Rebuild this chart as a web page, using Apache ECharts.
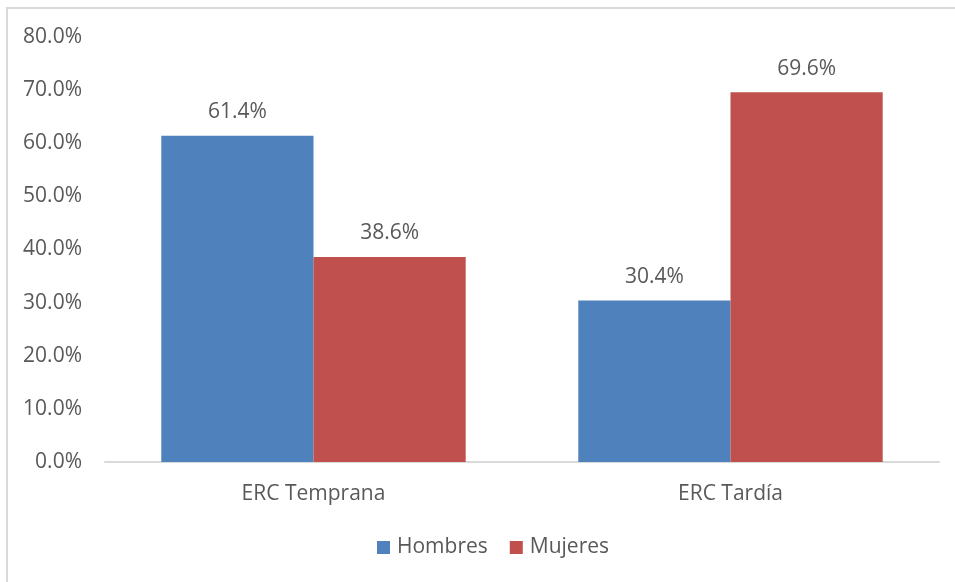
<!DOCTYPE html>
<html>
<head>
<meta charset="utf-8">
<script src="https://cdn.jsdelivr.net/npm/echarts@6/dist/echarts.min.js"></script>
<style>
  html, body { margin: 0; padding: 0; background: #fff; }
  #frame { position: absolute; left: 6px; top: 7px; width: 960px; height: 590px; border: 2px solid #d9d9d9; box-sizing: border-box; }
  #chart { position: absolute; left: 0; top: 0; width: 955px; height: 582px; }
</style>
</head>
<body>
<div id="frame"></div>
<div id="chart"></div>
<script>
// Distribución por sexo según estadio de ERC (%)
const categories = ['ERC Temprana', 'ERC Tardía'];
const hombres = [61.4, 30.4];
const mujeres = [38.6, 69.6];
const seriesNames = ['Hombres', 'Mujeres'];

const FONT = 'Open Sans';
const TEXT = '#595959';

const chart = echarts.init(document.getElementById('chart'), null, { renderer: 'canvas' });

const labelStyle = {
  show: true,
  position: 'top',
  distance: 13,
  color: TEXT,
  fontFamily: FONT,
  fontSize: 21,
  formatter: p => p.value.toFixed(1) + '%'
};

chart.setOption({
  backgroundColor: 'transparent',
  animation: false,
  grid: { left: 105, right: 16, top: 37, bottom: 120, containLabel: false },
  legend: {
    data: seriesNames,
    bottom: 19,
    left: 372,
    itemWidth: 13,
    itemHeight: 13,
    itemGap: 22,
    icon: 'rect',
    textStyle: { color: TEXT, fontFamily: FONT, fontSize: 21, padding: [0, 0, 0, 2] }
  },
  xAxis: {
    type: 'category',
    data: categories,
    axisLine: { lineStyle: { color: '#d9d9d9', width: 2 } },
    axisTick: { show: false },
    axisLabel: { color: TEXT, fontFamily: FONT, fontSize: 21, margin: 22 }
  },
  yAxis: {
    type: 'value',
    min: 0,
    max: 80,
    interval: 10,
    splitLine: { show: false },
    axisLine: { show: false },
    axisTick: { show: false },
    axisLabel: {
      color: TEXT, fontFamily: FONT, fontSize: 21, margin: 23,
      formatter: v => v.toFixed(1) + '%'
    }
  },
  series: [
    {
      name: seriesNames[0],
      type: 'bar',
      data: hombres,
      barGap: '0%',
      barCategoryGap: '27%',
      itemStyle: { color: '#4F81BD' },
      label: labelStyle
    },
    {
      name: seriesNames[1],
      type: 'bar',
      data: mujeres,
      barGap: '0%',
      barCategoryGap: '27%',
      itemStyle: { color: '#C0504D' },
      label: labelStyle
    }
  ]
});
</script>
</body>
</html>
